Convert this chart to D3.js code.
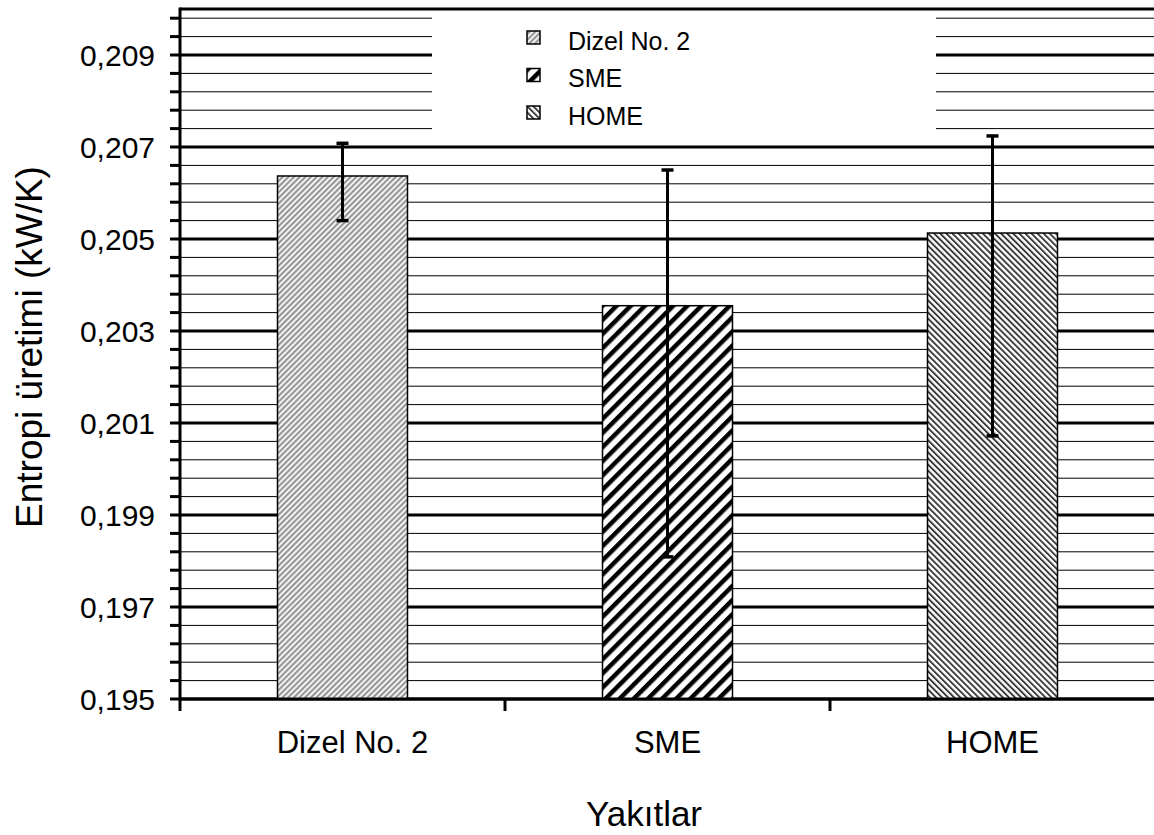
<!DOCTYPE html>
<html>
<head>
<meta charset="utf-8">
<script src="https://cdn.jsdelivr.net/npm/d3@7"></script>
<style>
  body { margin: 0; background: #fff; }
  text { font-family: "Liberation Sans", Arial, sans-serif; fill: #000; }
</style>
</head>
<body>
<svg width="1154" height="835"></svg>
<script>
// yakıt türleri ve ortalama entropi üretimi (kW/K)
const categories = ["Dizel No. 2", "SME", "HOME"];
const values = [0.20637, 0.20355, 0.20513];
// hata çubuklarının üst ve alt uçları
const errUpper = [0.20708, 0.20650, 0.20724];
const errLower = [0.20540, 0.19809, 0.20072];
const majorTicks = [0.195, 0.197, 0.199, 0.201, 0.203, 0.205, 0.207, 0.209];
const patternIds = ["pDizel", "pSme", "pHome"];

const svg = d3.select("svg");
const fmt = d => d3.format(".3f")(d).replace(".", ",");

const plotLeft = 180, plotRight = 1155, plotTop = 9, plotBottom = 699;

const x = d3.scaleBand().domain(categories).range([plotLeft, plotRight])
    .paddingInner(0.6).paddingOuter(0.3);
const xSlot = d3.scaleBand().domain(categories).range([plotLeft, plotRight]).padding(0);
const y = d3.scaleLinear().domain([0.195, 0.210]).range([plotBottom, plotTop]);

// desenler
const defs = svg.append("defs");
function stripes(id, angle, size, width, color, bg) {
    const p = defs.append("pattern").attr("id", id)
        .attr("patternUnits", "userSpaceOnUse")
        .attr("width", size).attr("height", size)
        .attr("patternTransform", "rotate(" + angle + ")");
    p.append("rect").attr("width", size).attr("height", size).attr("fill", bg);
    p.append("rect").attr("width", width).attr("height", size).attr("fill", color);
}
stripes("pDizel", 45, 4, 2, "#969696", "#f2f2f2");
stripes("pSme", 45, 10, 4.5, "#000", "#fff");
stripes("pHome", -45, 4.3, 1.9, "#3a3a3a", "#fff");

// ızgara çizgileri (ince: her 0,0004, kalın: her 0,002)
const minorTicks = d3.range(0, 38).map(i => 0.195 + i * 0.0004).filter(v => v <= 0.2099);
const grid = svg.append("g");
grid.selectAll("line.minor").data(minorTicks).enter().append("line")
    .attr("x1", plotLeft).attr("x2", 1154)
    .attr("y1", d => y(d)).attr("y2", d => y(d))
    .attr("stroke", "#000").attr("stroke-width", 1);
grid.selectAll("line.major").data(majorTicks).enter().append("line")
    .attr("x1", plotLeft).attr("x2", 1154)
    .attr("y1", d => y(d)).attr("y2", d => y(d))
    .attr("stroke", "#000").attr("stroke-width", 3);

// lejant arka planı gridi kapatır
svg.append("rect").attr("x", 432).attr("y", plotTop + 1).attr("width", 504).attr("height", 128)
    .attr("fill", "#fff");

// çubuklar
svg.selectAll("rect.bar").data(categories).enter().append("rect")
    .attr("class", "bar")
    .attr("x", d => x(d)).attr("width", x.bandwidth())
    .attr("y", (d, i) => y(values[i]))
    .attr("height", (d, i) => y(0.195) - y(values[i]))
    .attr("fill", (d, i) => "url(#" + patternIds[i] + ")")
    .attr("stroke", "#000").attr("stroke-width", 1.5);

// hata çubukları
const err = svg.append("g");
categories.forEach((c, i) => {
    const cx = x(c) + x.bandwidth() / 2;
    err.append("line").attr("x1", cx).attr("x2", cx)
        .attr("y1", y(errUpper[i])).attr("y2", y(errLower[i]))
        .attr("stroke", "#000").attr("stroke-width", 3);
    [errUpper[i], errLower[i]].forEach(v => {
        err.append("line").attr("x1", cx - 6).attr("x2", cx + 6)
            .attr("y1", y(v)).attr("y2", y(v))
            .attr("stroke", "#000").attr("stroke-width", 3.5);
    });
});

// üst çerçeve
svg.append("line").attr("x1", plotLeft).attr("x2", 1154).attr("y1", plotTop).attr("y2", plotTop)
    .attr("stroke", "#000").attr("stroke-width", 3);

// y ekseni
const yAxis = svg.append("g");
yAxis.append("line").attr("x1", plotLeft).attr("x2", plotLeft)
    .attr("y1", plotTop - 1.5).attr("y2", plotBottom + 12)
    .attr("stroke", "#000").attr("stroke-width", 3);
yAxis.selectAll("line.t").data(minorTicks).enter().append("line")
    .attr("x1", 170).attr("x2", plotLeft)
    .attr("y1", d => y(d)).attr("y2", d => y(d))
    .attr("stroke", "#000").attr("stroke-width", 3);
yAxis.selectAll("text").data(majorTicks).enter().append("text")
    .attr("x", 155).attr("y", d => y(d)).attr("dy", "0.36em")
    .attr("text-anchor", "end").attr("font-size", 30)
    .text(fmt);

// x ekseni
const xAxis = svg.append("g");
xAxis.append("line").attr("x1", plotLeft).attr("x2", 1154).attr("y1", plotBottom).attr("y2", plotBottom)
    .attr("stroke", "#000").attr("stroke-width", 3);
xAxis.selectAll("line.t").data(categories.slice(1)).enter().append("line")
    .attr("x1", d => xSlot(d)).attr("x2", d => xSlot(d))
    .attr("y1", plotBottom).attr("y2", plotBottom + 12)
    .attr("stroke", "#000").attr("stroke-width", 3);
xAxis.selectAll("text").data(categories).enter().append("text")
    .attr("x", (d, i) => x(d) + x.bandwidth() / 2 + (i === 0 ? 10 : 0)).attr("y", 753)
    .attr("text-anchor", "middle").attr("font-size", 31)
    .text(d => d);

// eksen başlıkları
svg.append("text").attr("x", 644).attr("y", 826)
    .attr("text-anchor", "middle").attr("font-size", 35).text("Yakıtlar");
svg.append("text").attr("transform", "translate(42,347) rotate(-90)")
    .attr("text-anchor", "middle").attr("font-size", 37).text("Entropi üretimi (kW/K)");

// lejant
const legend = svg.append("g");
categories.forEach((c, i) => {
    const cy = 37.5 + i * 37.5;
    legend.append("rect").attr("x", 527).attr("y", cy - 6.5).attr("width", 13).attr("height", 13)
        .attr("fill", "url(#" + patternIds[i] + ")").attr("stroke", "#000").attr("stroke-width", 1.5);
    legend.append("text").attr("x", 568).attr("y", cy + 12).attr("font-size", 25).text(c);
});
</script>
</body>
</html>
